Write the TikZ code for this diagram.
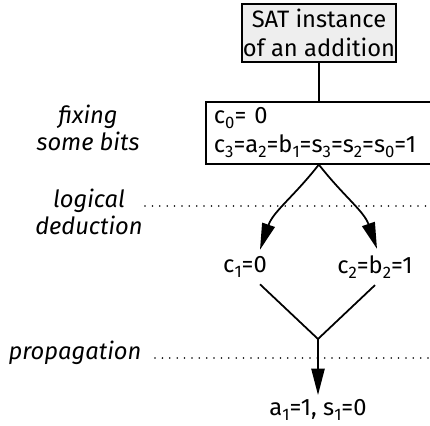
\documentclass[tikz,border=0pt]{standalone}
\usepackage{fontspec}
\setmainfont{Fira Sans}
\usetikzlibrary{arrows.meta}
\newcommand\bsub[1]{\raisebox{-0.4ex}{\fontsize{9.5}{10}\selectfont #1}}

\begin{document}
\begin{tikzpicture}[x=0.02cm,y=-0.02cm,line width=1pt,
    font=\fontsize{13.5}{16.4}\selectfont,
    box/.style={draw,line width=1pt},
    note/.style={font=\fontsize{13.5}{15.3}\selectfont\itshape,align=center},
    arr/.style={-{Triangle[length=15pt,width=7.5pt]}},
    guide/.style={line width=1pt,line cap=round,dash pattern=on 0pt off 4.2pt}]
    \clip (0,0) rectangle (430,426);
    \node[box,fill=gray!13,align=center,inner sep=0pt,minimum width=3.08cm,
          minimum height=1.16cm] (sat) at (319,33) {SAT instance\\of an addition};
    \node[box,anchor=north west,minimum width=4.52cm,minimum height=1.14cm,
          text width=4.2cm,inner xsep=0.16cm,align=left] (fix) at (205,101)
          {c\bsub{0}= 0\\c\bsub{3}=a\bsub{2}=b\bsub{1}=s\bsub{3}=s\bsub{2}=s\bsub{0}=1};
    \node (c1) at (245,267) {c\bsub{1}=0};
    \node (c2) at (375,267) {c\bsub{2}=b\bsub{2}=1};
    \node[inner ysep=2pt] (res) at (318,410) {a\bsub{1}=1, s\bsub{1}=0};
    \coordinate (join) at (318,339);
    % labels on the left
    \node[note] (fixing) at (88,128) {fixing\\some bits};
    \node[note] (deduct) at (89,212) {logical\\deduction};
    \node[note] (prop) at (75,353) {propagation};
    \draw[guide] (145,206) -- (430,206);
    \draw[guide] (155,358) -- (430,358);
    % connectors
    \draw (sat.south) -- (sat.south |- fix.north);
    \draw[arr] (fix.south) to[out=-128,in=71] ([xshift=0.3cm]c1.north);
    \draw[arr] (fix.south) to[out=-52,in=109] ([xshift=0.04cm]c2.north);
    \draw ([xshift=0.3cm]c1.south) -- (join);
    \draw (c2.south) -- (join);
    \draw[arr] (join) -- (res.north);
\end{tikzpicture}
\end{document}
